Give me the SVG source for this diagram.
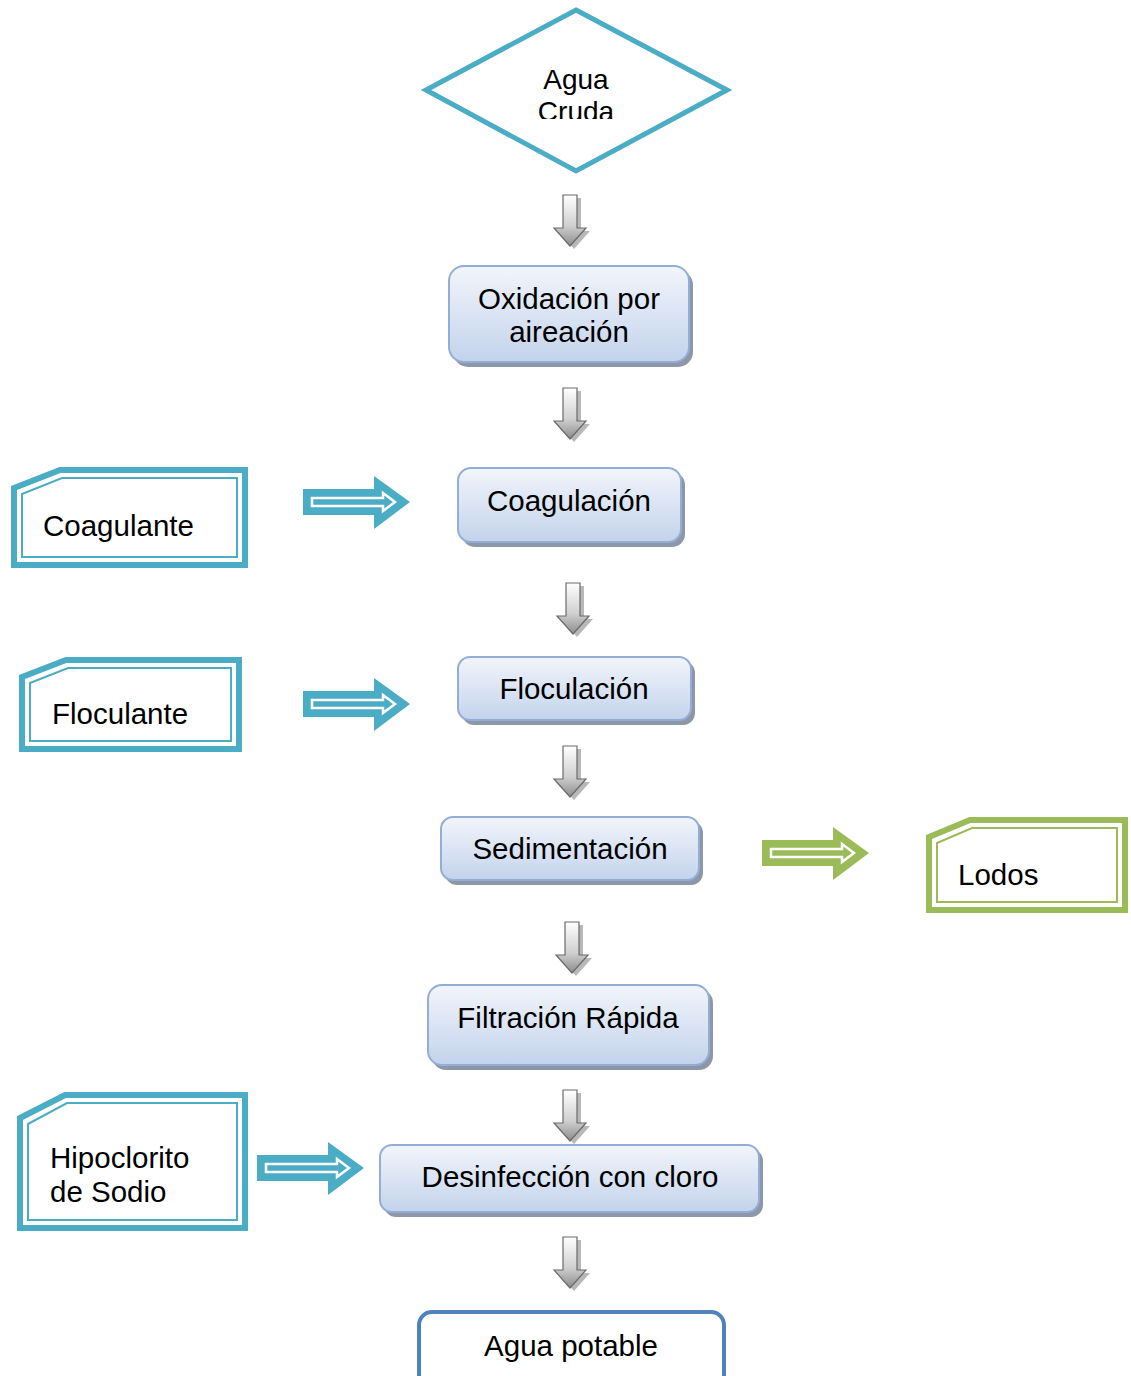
<svg xmlns="http://www.w3.org/2000/svg" xmlns:xlink="http://www.w3.org/1999/xlink" width="1131" height="1376" viewBox="0 0 1131 1376">
<defs>
<style>
text{font-family:"Liberation Sans",Arial,sans-serif;font-size:29.5px;fill:#000;}
.c{text-anchor:middle;}
.box{fill:url(#boxg);stroke:#93AED6;stroke-width:2;}
.shadow{fill:#8D97A8;}
.cardO{fill:#fff;stroke-width:6;stroke-linejoin:miter;}
.cardI{fill:none;stroke-width:2;}
.blue{stroke:#4BACC6;}
.green{stroke:#9BBB59;}
</style>
<linearGradient id="boxg" x1="0" y1="0" x2="0" y2="1">
<stop offset="0" stop-color="#F2F5FB"/>
<stop offset="1" stop-color="#C3D3EC"/>
</linearGradient>
<linearGradient id="grayg" x1="0" y1="0" x2="0" y2="1">
<stop offset="0" stop-color="#FFFFFF"/>
<stop offset="0.6" stop-color="#D0D0D0"/>
<stop offset="1" stop-color="#8C8C8C"/>
</linearGradient>
<g id="garrow">
<polygon points="-7,0 7,0 7,33 16,33 0,51 -16,33 -7,33" transform="translate(4,3)" fill="#B8B8B8"/>
<polygon points="-7,0 7,0 7,33 16,33 0,51 -16,33 -7,33" fill="url(#grayg)" stroke="#6A6A6A" stroke-width="1.2"/>
</g>
<g id="barrow">
<polygon points="0,-13 71,-13 71,-26 107,0 71,27 71,13 0,13" fill="currentColor"/>
<polygon points="9,-4 80,-4 80,-9 92,0 80,9 80,4 9,4" fill="currentColor" stroke="#fff" stroke-width="2.5"/>
</g>
<clipPath id="dclip"><rect x="430" y="55" width="290" height="64"/></clipPath>
</defs>

<g id="connectors">
<use xlink:href="#garrow" x="570" y="195"/>
<use xlink:href="#garrow" x="570" y="388"/>
<use xlink:href="#garrow" x="573" y="583"/>
<use xlink:href="#garrow" x="570" y="746"/>
<use xlink:href="#garrow" x="572" y="922"/>
<use xlink:href="#garrow" x="570" y="1090"/>
<use xlink:href="#garrow" x="570" y="1237"/>
<use xlink:href="#barrow" x="303" y="502" color="#4BACC6"/>
<use xlink:href="#barrow" x="303" y="704" color="#4BACC6"/>
<use xlink:href="#barrow" x="762" y="853" color="#9BBB59"/>
<use xlink:href="#barrow" x="257" y="1168" color="#4BACC6"/>
</g>

<g id="agua-cruda">
<polygon points="576,10 727,90 576,171 426,90" fill="#fff" stroke="#4BACC6" stroke-width="5" stroke-linejoin="miter"/>
<g clip-path="url(#dclip)">
<text class="c" x="576" y="89" style="font-size:28px">Agua</text>
<text class="c" x="576" y="121" style="font-size:28px">Cruda</text>
</g>
</g>

<g id="oxidacion">
<rect class="shadow" x="453" y="270" width="240" height="97" rx="15"/>
<rect class="box" x="449" y="266" width="240" height="96" rx="15"/>
<text class="c" x="569" y="309">Oxidación por</text>
<text class="c" x="569" y="342">aireación</text>
</g>

<g id="coagulacion">
<rect class="shadow" x="462" y="472" width="223" height="75" rx="13"/>
<rect class="box" x="458" y="468" width="223" height="74" rx="13"/>
<text class="c" x="569" y="511">Coagulación</text>
</g>

<g id="floculacion">
<rect class="shadow" x="462" y="661" width="233" height="64" rx="12"/>
<rect class="box" x="458" y="657" width="233" height="63" rx="12"/>
<text class="c" x="574" y="699">Floculación</text>
</g>

<g id="sedimentacion">
<rect class="shadow" x="445" y="821" width="258" height="64" rx="12"/>
<rect class="box" x="441" y="817" width="258" height="63" rx="12"/>
<text class="c" x="570" y="859">Sedimentación</text>
</g>

<g id="filtracion">
<rect class="shadow" x="432" y="989" width="281" height="81" rx="14"/>
<rect class="box" x="428" y="985" width="281" height="80" rx="14"/>
<text class="c" x="568" y="1028">Filtración Rápida</text>
</g>

<g id="desinfeccion">
<rect class="shadow" x="384" y="1149" width="379" height="68" rx="12"/>
<rect class="box" x="380" y="1145" width="379" height="67" rx="12"/>
<text class="c" x="570" y="1187">Desinfección con cloro</text>
</g>

<g id="agua-potable">
<rect x="419" y="1312" width="305" height="90" rx="13" fill="#fff" stroke="#4F81BD" stroke-width="4"/>
<text class="c" x="571" y="1356">Agua potable</text>
</g>

<g id="coagulante">
<path class="cardO blue" d="M14,488 L60,470 L245,470 L245,565 L14,565 Z"/>
<path class="cardI blue" d="M22,494 L62,478 L237,478 L237,557 L22,557 Z"/>
<text x="43" y="536">Coagulante</text>
</g>

<g id="floculante">
<path class="cardO blue" d="M22,677 L66,660 L239,660 L239,749 L22,749 Z"/>
<path class="cardI blue" d="M30,683 L68,668 L231,668 L231,741 L30,741 Z"/>
<text x="52" y="724">Floculante</text>
</g>

<g id="lodos">
<path class="cardO green" d="M929,837 L970,820 L1125,820 L1125,910 L929,910 Z"/>
<path class="cardI green" d="M937,843 L972,828 L1117,828 L1117,902 L937,902 Z"/>
<text x="958" y="885">Lodos</text>
</g>

<g id="hipoclorito">
<path class="cardO blue" d="M20,1118 L65,1095 L245,1095 L245,1228 L20,1228 Z"/>
<path class="cardI blue" d="M28,1124 L67,1103 L237,1103 L237,1220 L28,1220 Z"/>
<text x="50" y="1168">Hipoclorito</text>
<text x="50" y="1202">de Sodio</text>
</g>
</svg>
